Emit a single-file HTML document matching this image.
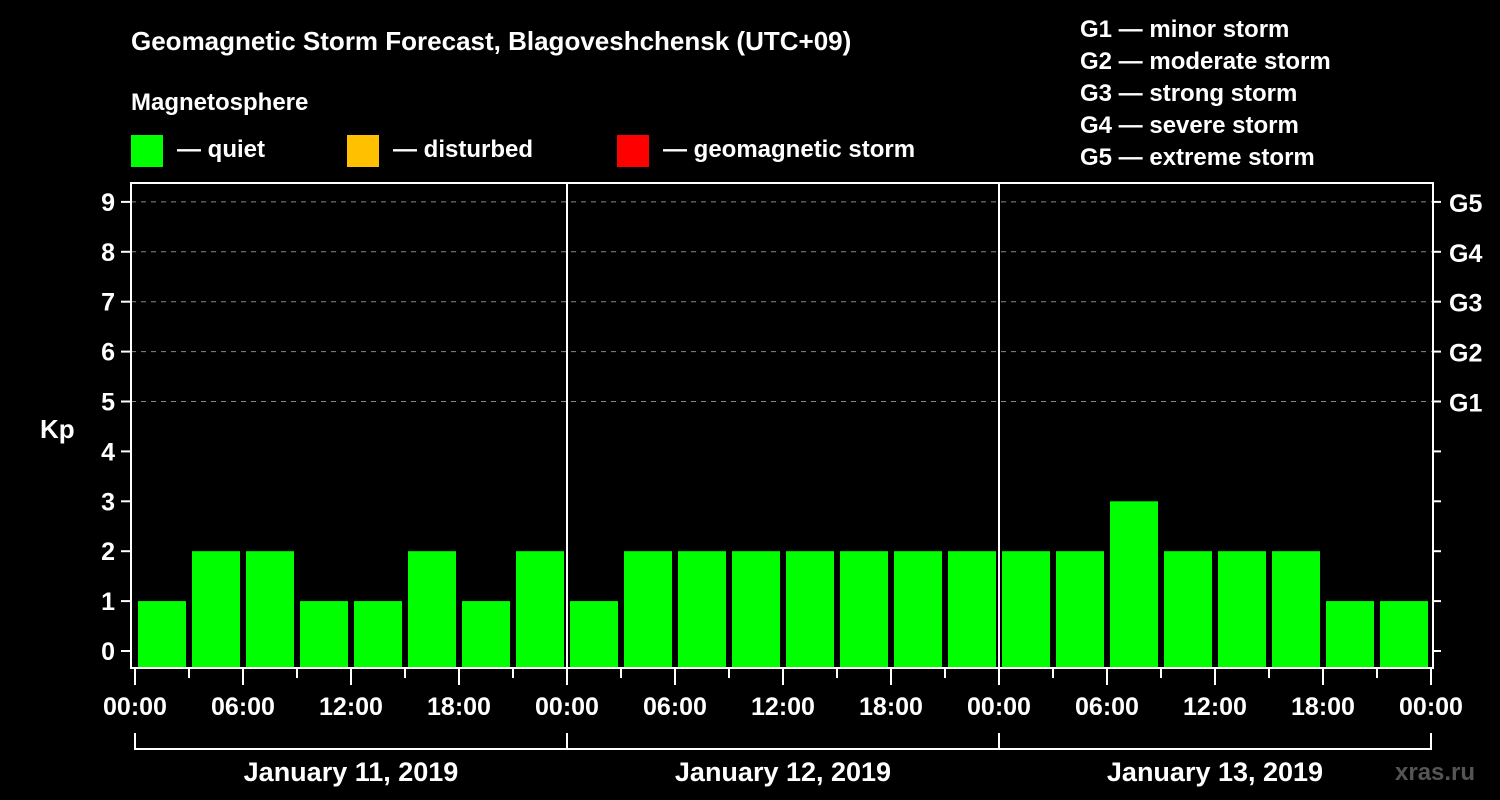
<!DOCTYPE html>
<html><head><meta charset="utf-8"><style>
body{margin:0;background:#000;}
svg{display:block;font-family:"Liberation Sans",sans-serif;font-weight:bold;}
</style></head><body>
<svg id="c" width="1500" height="800" viewBox="0 0 1500 800">
<rect width="1500" height="800" fill="#000"/>
<text x="131" y="50" fill="#fff" font-size="26">Geomagnetic Storm Forecast, Blagoveshchensk (UTC+09)</text>
<text x="131" y="110" fill="#fff" font-size="24">Magnetosphere</text>
<g>
<rect x="131" y="135" width="32" height="32" fill="#00ff00"/>
<text x="177" y="157" fill="#fff" font-size="24">— quiet</text>
<rect x="347" y="135" width="32" height="32" fill="#ffc000"/>
<text x="393" y="157" fill="#fff" font-size="24">— disturbed</text>
<rect x="617" y="135" width="32" height="32" fill="#ff0000"/>
<text x="663" y="157" fill="#fff" font-size="24">— geomagnetic storm</text>
</g>
<g fill="#fff" font-size="24">
<text x="1080" y="37">G1 — minor storm</text>
<text x="1080" y="69">G2 — moderate storm</text>
<text x="1080" y="101">G3 — strong storm</text>
<text x="1080" y="133">G4 — severe storm</text>
<text x="1080" y="165">G5 — extreme storm</text>
</g>
<text x="40" y="438" fill="#fff" font-size="26">Kp</text>
<text x="1395" y="780" fill="#555" font-size="24">xras.ru</text>
<g id="plot"></g>
</svg>
<script>
const kpValues=[1,2,2,1,1,2,1,2, 1,2,2,2,2,2,2,2, 2,2,3,2,2,2,1,1];
const yTicks=[0,1,2,3,4,5,6,7,8,9];
const gLabels=["G1","G2","G3","G4","G5"];
const xTickLabels=["00:00","06:00","12:00","18:00","00:00","06:00","12:00","18:00","00:00","06:00","12:00","18:00","00:00"];
const dayLabels=["January 11, 2019","January 12, 2019","January 13, 2019"];

const NS="http://www.w3.org/2000/svg";
const g=document.getElementById('plot');
const L=131,R=1433,T=183,B=668,X0=135,STEP=54;
const y=v=>651-49.9*v;
const x=i=>X0+STEP*i;
function mk(t,a,txt){const e=document.createElementNS(NS,t);for(const k in a)e.setAttribute(k,a[k]);if(txt!==undefined)e.textContent=txt;g.appendChild(e);return e;}
function color(v){return v>=5?"#ff0000":v>=4?"#ffc000":"#00ff00";}

yTicks.forEach(v=>{
  if(v>=5){const l=mk('line',{x1:L,x2:R,y1:y(v),y2:y(v),stroke:'#888','stroke-dasharray':'5,5','stroke-width':1});
  
  }
  const t=mk('line',{x1:L-10,x2:L,y1:y(v),y2:y(v),stroke:'#fff','stroke-width':2});
  
  
  const t2=mk('line',{x1:R,x2:R+8,y1:y(v),y2:y(v),stroke:'#fff','stroke-width':2});
  
  
  const tl=mk('text',{x:L-16,y:y(v)+9,fill:'#fff','font-size':25,'text-anchor':'end'},String(v));
  
  
});
gLabels.forEach((s,i)=>{
  const t=mk('text',{x:1449,y:y(5+i)+10,fill:'#fff','font-size':25},s);
  
  
});
kpValues.forEach((v,i)=>{
  const b=mk('rect',{x:x(i)+3,y:y(v),width:48,height:667-y(v),fill:color(v)});
  
  
});
[1,2].forEach(d=>{
  const l=mk('line',{x1:x(d*8),x2:x(d*8),y1:T,y2:B,stroke:'#fff','stroke-width':2});
  
  
});
const fr=mk('rect',{x:L,y:T,width:R-L,height:B-T,fill:'none',stroke:'#fff','stroke-width':2});


for(let i=0;i<=24;i++){
  const tk=mk('line',{x1:x(i),x2:x(i),y1:B,y2:i%2?B+10:B+17,stroke:'#fff','stroke-width':2});
  
  
}
xTickLabels.forEach((s,i)=>{
  const t=mk('text',{x:x(i*2),y:715,fill:'#fff','font-size':25,'text-anchor':'middle'},s);
  
  
});
const br=mk('line',{x1:x(0),x2:x(24),y1:749,y2:749,stroke:'#fff','stroke-width':2});


[0,1,2,3].forEach(d=>{
  const l=mk('line',{x1:x(d*8),x2:x(d*8),y1:733,y2:750,stroke:'#fff','stroke-width':2});
  
  
});
dayLabels.forEach((s,d)=>{
  const t=mk('text',{x:x(d*8+4),y:781,fill:'#fff','font-size':27,'text-anchor':'middle'},s);
  
  
});
</script>
</body></html>
